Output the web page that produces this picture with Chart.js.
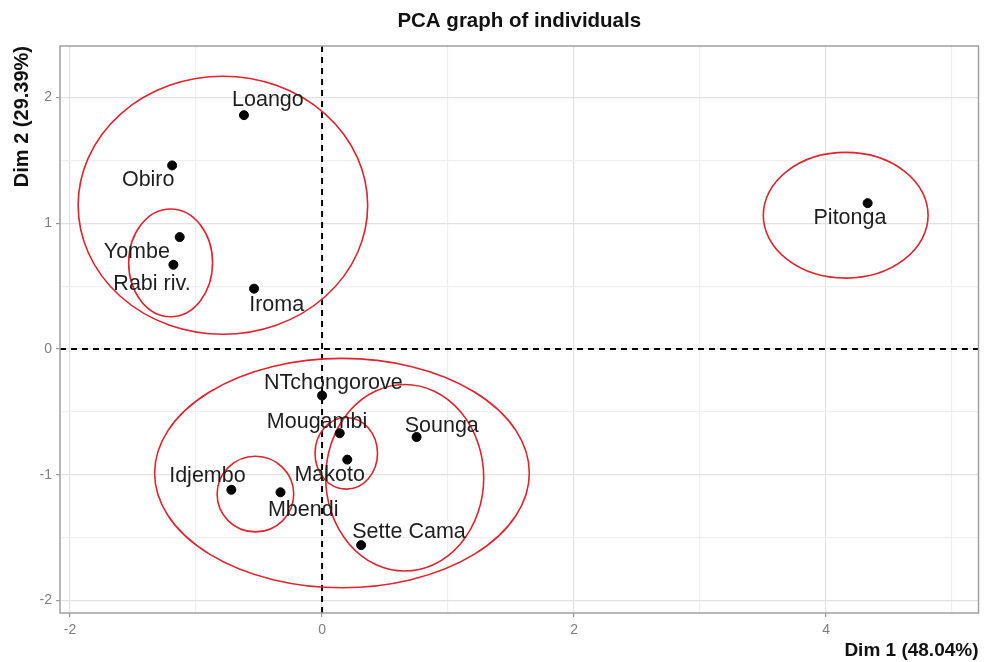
<!DOCTYPE html>
<html>
<head>
<meta charset="utf-8">
<script src="https://cdn.jsdelivr.net/npm/chart.js@4"></script>
<style>
html,body{margin:0;padding:0;background:#fff;}
#wrap{width:984px;height:662px;}
</style>
</head>
<body>
<div id="wrap"><canvas id="c" width="984" height="662"></canvas></div>
<script>
// ---- data ----
const names = ['Loango','Obiro','Yombe','Rabi riv.','Iroma','Pitonga','NTchongorove','Mougambi','Sounga','Makoto','Idjembo','Mbendi','Sette Cama'];
const dim1 = [-0.62,-1.19,-1.13,-1.18,-0.54,4.33,0.00,0.14,0.75,0.20,-0.72,-0.33,0.31];
const dim2 = [1.86,1.46,0.89,0.67,0.48,1.16,-0.37,-0.67,-0.70,-0.88,-1.12,-1.14,-1.56];
// label anchor positions (data units)
const labelX = [-0.43,-1.38,-1.47,-1.35,-0.36,4.19,0.09,-0.04,0.95,0.06,-0.91,-0.15,0.69];
const labelY = [1.98,1.34,0.77,0.52,0.35,1.04,-0.27,-0.58,-0.61,-1.00,-1.01,-1.28,-1.46];
// group ellipses (data units)
const ellipseCx = [-0.787,-1.202,4.156,0.158,-0.529,0.192,0.656];
const ellipseCy = [1.143,0.685,1.064,-0.987,-1.154,-0.830,-1.024];
const ellipseRx = [1.149,0.333,0.654,1.487,0.304,0.248,0.627];
const ellipseRy = [1.026,0.428,0.500,0.912,0.301,0.285,0.742];
// axes
const xTicks = [-2,-1,0,1,2,3,4,5];
const yTicks = [-2,-1.5,-1,-0.5,0,0.5,1,1.5,2];
const xMajor = [-2,0,2,4];
const yMajor = [-2,-1,0,1,2];
const xRange = [-2.08,5.21];
const yRange = [-2.10,2.41];
const titleText = 'PCA graph of individuals';
const xTitle = 'Dim 1 (48.04%)';
const yTitle = 'Dim 2 (29.39%)';

const points = dim1.map((x,i)=>({x:x,y:dim2[i]}));
const FONT = '"Liberation Sans", Arial, sans-serif';

const decorPlugin = {
  id:'decor',
  beforeDatasetsDraw(chart){
    const {ctx, chartArea:a, scales:{x,y}} = chart;
    ctx.save();
    ctx.beginPath(); ctx.rect(a.left,a.top,a.right-a.left,a.bottom-a.top); ctx.clip();
    // dashed zero lines
    ctx.strokeStyle='#000'; ctx.lineWidth=2; ctx.setLineDash([6,5]);
    ctx.beginPath();
    const x0=x.getPixelForValue(0), y0=y.getPixelForValue(0);
    ctx.moveTo(x0,a.top); ctx.lineTo(x0,a.bottom);
    ctx.moveTo(a.left,y0); ctx.lineTo(a.right,y0);
    ctx.stroke();
    ctx.setLineDash([]);
    // ellipses
    ctx.strokeStyle='rgb(225,35,45)'; ctx.lineWidth=1.6;
    for(let i=0;i<ellipseCx.length;i++){
      const cx=x.getPixelForValue(ellipseCx[i]), cy=y.getPixelForValue(ellipseCy[i]);
      const rx=Math.abs(x.getPixelForValue(ellipseCx[i]+ellipseRx[i])-cx);
      const ry=Math.abs(y.getPixelForValue(ellipseCy[i]+ellipseRy[i])-cy);
      ctx.beginPath(); ctx.ellipse(cx,cy,rx,ry,0,0,Math.PI*2); ctx.stroke();
    }
    // labels
    ctx.fillStyle='#1e1e1e'; ctx.font='21.5px '+FONT;
    ctx.textAlign='center'; ctx.textBaseline='middle';
    for(let i=0;i<names.length;i++){
      ctx.fillText(names[i], x.getPixelForValue(labelX[i]), y.getPixelForValue(labelY[i]));
    }
    ctx.restore();
  },
  afterDraw(chart){
    const {ctx, chartArea:a} = chart;
    ctx.save();
    ctx.strokeStyle='#a0a0a0'; ctx.lineWidth=1.5;
    ctx.strokeRect(a.left,a.top,a.right-a.left,a.bottom-a.top);
    ctx.restore();
  }
};

new Chart(document.getElementById('c'),{
  type:'scatter',
  data:{datasets:[{data:points, backgroundColor:'#000', borderColor:'#000', pointRadius:4.5, pointHoverRadius:4.5}]},
  options:{
    responsive:false, animation:false,
    layout:{padding:{left:0,right:4,top:0,bottom:0}},
    plugins:{
      legend:{display:false}, tooltip:{enabled:false},
      title:{display:true, fullSize:false, text:titleText, color:'#111',
        font:{family:FONT, size:20.5, weight:'bold'},
        padding:{top:9,bottom:12.4}}
    },
    scales:{
      x:{type:'linear', min:xRange[0], max:xRange[1],
        afterBuildTicks(s){ s.ticks = xTicks.map(v=>({value:v})); },
        afterFit(s){ s.height = 49; },
        ticks:{color:'#7f7f7f', padding:5, font:{family:FONT, size:14},
          callback:(v)=> xMajor.includes(v) ? String(v) : ''},
        grid:{color:(c)=> xMajor.includes(c.tick && c.tick.value) ? '#e2e2e2' : '#efefef',
          tickColor:(c)=> xMajor.includes(c.tick && c.tick.value) ? '#999' : 'rgba(0,0,0,0)',
          tickLength:4, lineWidth:1.2},
        border:{display:false},
        title:{display:true, text:xTitle, align:'end', color:'#111',
          font:{family:FONT, size:19, weight:'bold'}, padding:{top:0,bottom:0}}
      },
      y:{type:'linear', min:yRange[0], max:yRange[1],
        afterBuildTicks(s){ s.ticks = yTicks.map(v=>({value:v})); },
        afterFit(s){ s.width = 60; },
        ticks:{color:'#7f7f7f', padding:4, font:{family:FONT, size:14},
          callback:(v)=> yMajor.includes(v) ? String(v) : ''},
        grid:{color:(c)=> yMajor.includes(c.tick && c.tick.value) ? '#e2e2e2' : '#efefef',
          tickColor:(c)=> yMajor.includes(c.tick && c.tick.value) ? '#999' : 'rgba(0,0,0,0)',
          tickLength:4, lineWidth:1.2},
        border:{display:false},
        title:{display:true, text:yTitle, align:'end', color:'#111',
          font:{family:FONT, size:20, weight:'bold'}, padding:{top:10,bottom:0}}
      }
    }
  },
  plugins:[decorPlugin]
});
</script>
</body>
</html>
